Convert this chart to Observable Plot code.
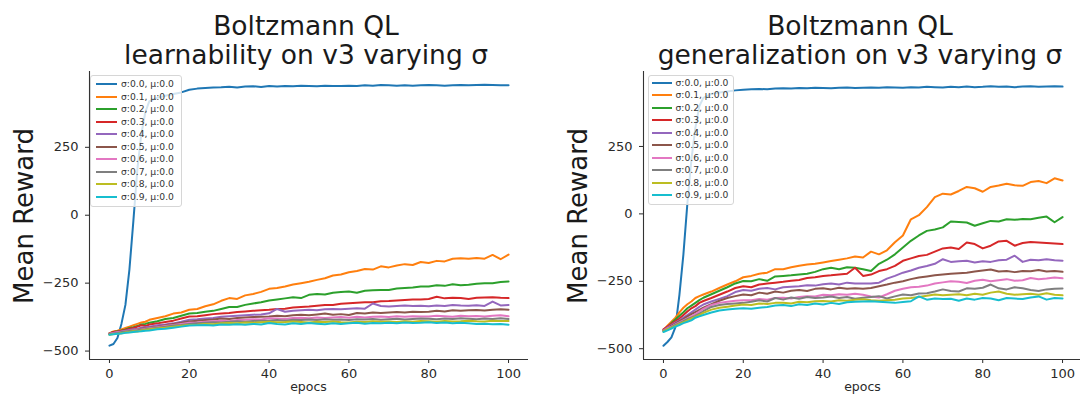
<!DOCTYPE html>
<html>
<head>
<meta charset="utf-8">
<script src="https://cdn.jsdelivr.net/npm/d3@7"></script>
<script src="https://cdn.jsdelivr.net/npm/@observablehq/plot@0.6"></script>
<style>
  html, body { margin: 0; padding: 0; background: #fff; overflow: hidden; }
  #wrap { position: relative; width: 1080px; height: 398px; overflow: hidden; font-family: "DejaVu Sans", sans-serif; }
  .panel { position: absolute; top: 0; width: 540px; height: 398px; }
  .legend { position: absolute; top: 75px; background: rgba(255,255,255,0.8); border: 1px solid #d6d6d6; border-radius: 3px; box-sizing: border-box; }
  .legend .row { position: absolute; left: 0; height: 12px; }
  .legend .sw { position: absolute; height: 2px; top: 5px; }
  .legend .tx { position: absolute; top: 0; font-size: 9.2px; line-height: 12px; color: #333; white-space: nowrap; }
  svg.overlay { position: absolute; left: 0; top: 0; pointer-events: none; }
</style>
</head>
<body>
<div id="wrap"></div>
<script>
// ---------- data ----------
const epochs = [0,1,2,3,4,5,6,7,8,9,10,
  12,14,16,18,20,22,24,26,28,30,
  32,34,36,38,40,42,44,46,48,50,
  52,54,56,58,60,62,64,66,68,70,
  72,74,76,78,80,82,84,86,88,90,
  92,94,96,98,100];

const sigmas = ["0.0","0.1","0.2","0.3","0.4","0.5","0.6","0.7","0.8","0.9"];
const labels = sigmas.map(s => `σ:${s}, μ:0.0`);
const colors = ["#1f77b4","#ff7f0e","#2ca02c","#d62728","#9467bd","#8c564b","#e377c2","#7f7f7f","#bcbd22","#17becf"];

const xTicks = [0,20,40,60,80,100];
const yTicks = [-500,-250,0,250];
const titles = ["learnability on v3 varying σ", "generalization on v3 varying σ"];

// learnability panel
const learnS0 = [-480,-474,-452,-400,-330,-200,-20,170,300,380,420,
  432,440,446,452,462,466,468,470,471,473,
  470,474,475,472,476,474,476,475,477,476,
  475,477,476,476,477,476,478,477,479,478,
  477,478,477,478,479,478,477,478,479,478,
  479,480,479,478,478];
const learnS1 = [-435,-428,-425,-420,-415,-410,-405,-400,-395,-392,-385,
  -378,-372,-362,-358,-348,-345,-335,-328,-315,-305,
  -308,-295,-290,-282,-271,-268,-262,-255,-250,-245,
  -238,-232,-222,-218,-210,-205,-198,-200,-188,-192,
  -185,-180,-183,-172,-176,-168,-170,-160,-158,-160,
  -157,-160,-146,-162,-145];
const learnS2 = [-435,-430,-427,-424,-420,-415,-412,-408,-402,-400,-396,
  -390,-382,-378,-370,-362,-360,-355,-352,-345,-338,
  -338,-330,-325,-320,-314,-310,-306,-302,-305,-293,
  -290,-292,-285,-283,-281,-285,-278,-276,-275,-275,
  -270,-268,-266,-262,-262,-258,-260,-254,-258,-256,
  -252,-250,-250,-246,-244];
const learnS3 = [-435,-430,-428,-425,-422,-418,-415,-410,-405,-408,-402,
  -398,-393,-388,-380,-373,-372,-368,-364,-362,-360,
  -356,-354,-352,-350,-348,-345,-344,-340,-338,-336,
  -333,-330,-330,-326,-324,-322,-320,-320,-317,-316,
  -314,-312,-310,-310,-308,-300,-306,-304,-305,-308,
  -304,-303,-302,-304,-305];
const learnS4 = [-437,-433,-430,-428,-425,-422,-420,-418,-414,-412,-410,
  -405,-402,-398,-392,-385,-383,-380,-378,-374,-372,
  -370,-368,-366,-365,-361,-345,-355,-352,-350,-348,
  -350,-346,-345,-346,-344,-342,-344,-325,-334,-336,
  -334,-332,-334,-333,-335,-332,-334,-330,-332,-333,
  -331,-334,-318,-332,-330];
const learnS5 = [-437,-434,-432,-430,-428,-425,-423,-420,-418,-416,-414,
  -410,-405,-400,-396,-391,-388,-386,-384,-380,-382,
  -378,-376,-375,-374,-373,-370,-372,-368,-366,-368,
  -365,-362,-366,-364,-367,-360,-362,-358,-360,-358,
  -356,-358,-355,-356,-355,-352,-354,-350,-352,-350,
  -349,-351,-348,-346,-348];
const learnS6 = [-436,-433,-431,-429,-427,-425,-423,-421,-420,-418,-416,
  -412,-408,-404,-400,-396,-395,-392,-390,-388,-390,
  -386,-385,-383,-384,-379,-380,-382,-378,-377,-379,
  -376,-378,-376,-375,-377,-374,-376,-374,-373,-375,
  -372,-374,-372,-373,-373,-370,-372,-374,-370,-372,
  -371,-373,-370,-368,-372];
const learnS7 = [-438,-435,-433,-430,-428,-426,-424,-423,-421,-420,-418,
  -414,-410,-406,-404,-400,-398,-396,-394,-395,-392,
  -390,-392,-389,-388,-388,-386,-388,-385,-386,-384,
  -386,-383,-385,-384,-386,-383,-384,-382,-385,-383,
  -381,-384,-382,-380,-381,-383,-380,-382,-379,-381,
  -383,-380,-382,-379,-382];
const learnS8 = [-440,-437,-436,-434,-432,-430,-427,-428,-424,-422,-420,
  -417,-414,-410,-407,-404,-403,-400,-401,-398,-397,
  -398,-395,-396,-394,-392,-394,-393,-391,-393,-395,
  -392,-393,-391,-394,-395,-392,-393,-390,-392,-391,
  -393,-390,-392,-389,-390,-392,-389,-391,-390,-388,
  -390,-391,-388,-389,-389];
const learnS9 = [-440,-438,-436,-435,-433,-432,-430,-428,-427,-425,-424,
  -420,-418,-414,-410,-406,-405,-404,-406,-402,-403,
  -401,-403,-400,-402,-397,-400,-402,-398,-400,-397,
  -399,-401,-398,-400,-398,-396,-399,-397,-398,-396,
  -398,-395,-397,-396,-394,-397,-395,-398,-396,-398,
  -400,-399,-401,-400,-403];

// generalization panel
const genS0 = [-489,-475,-458,-420,-300,-150,40,200,320,400,430,
  445,450,454,458,460,462,463,462,465,466,
  465,467,466,468,467,466,468,469,467,468,
  469,468,470,469,468,470,469,471,470,469,
  471,470,472,470,471,473,471,472,470,472,
  473,471,472,473,472];
const genS1 = [-430,-415,-400,-385,-365,-348,-335,-325,-312,-305,-299,
  -288,-275,-262,-250,-235,-230,-222,-218,-205,-205,
  -198,-192,-188,-185,-180,-175,-170,-165,-158,-162,
  -140,-150,-135,-105,-80,-20,-5,25,62,75,
  72,85,100,95,82,100,105,112,106,104,
  118,122,114,132,124];
const genS2 = [-432,-420,-405,-392,-378,-365,-350,-340,-330,-320,-311,
  -298,-285,-272,-258,-249,-250,-242,-248,-232,-230,
  -228,-225,-222,-215,-205,-200,-205,-198,-200,-205,
  -212,-185,-170,-150,-125,-100,-80,-63,-58,-50,
  -28,-30,-32,-44,-35,-26,-28,-20,-22,-19,
  -20,-14,-10,-31,-12];
const genS3 = [-428,-418,-408,-398,-388,-375,-362,-350,-342,-330,-323,
  -312,-300,-288,-275,-268,-272,-262,-258,-255,-252,
  -248,-245,-238,-235,-230,-228,-225,-222,-200,-230,
  -225,-212,-205,-193,-174,-165,-156,-152,-140,-128,
  -125,-130,-106,-112,-128,-118,-102,-100,-118,-108,
  -104,-106,-108,-110,-112];
const genS4 = [-432,-422,-412,-403,-395,-385,-375,-365,-355,-345,-336,
  -325,-315,-305,-290,-282,-285,-278,-275,-280,-272,
  -270,-268,-265,-266,-261,-258,-262,-255,-258,-258,
  -258,-255,-240,-230,-218,-210,-200,-193,-185,-168,
  -178,-176,-174,-180,-176,-178,-172,-170,-155,-178,
  -170,-172,-168,-172,-174];
const genS5 = [-433,-425,-415,-407,-398,-390,-380,-372,-364,-356,-348,
  -335,-322,-312,-305,-299,-302,-292,-296,-288,-292,
  -285,-282,-286,-278,-276,-280,-274,-278,-276,-278,
  -275,-268,-262,-255,-250,-242,-236,-232,-228,-225,
  -222,-220,-218,-214,-210,-206,-214,-212,-216,-212,
  -213,-208,-214,-212,-215];
const genS6 = [-433,-425,-418,-410,-402,-395,-388,-380,-372,-362,-352,
  -338,-330,-326,-322,-320,-320,-316,-318,-312,-311,
  -314,-308,-305,-306,-300,-302,-298,-300,-296,-300,
  -306,-310,-298,-285,-278,-272,-270,-266,-258,-254,
  -250,-252,-256,-248,-244,-250,-246,-242,-248,-246,
  -238,-242,-240,-236,-239];
const genS7 = [-434,-428,-420,-412,-405,-398,-390,-385,-378,-370,-361,
  -345,-338,-334,-332,-330,-326,-320,-325,-312,-318,
  -310,-315,-308,-312,-310,-306,-312,-308,-315,-311,
  -308,-305,-314,-306,-299,-302,-295,-294,-288,-280,
  -286,-288,-276,-278,-274,-262,-276,-280,-272,-276,
  -282,-286,-280,-278,-277];
const genS8 = [-436,-428,-422,-415,-408,-402,-395,-388,-382,-375,-367,
  -355,-348,-344,-340,-336,-338,-332,-334,-330,-330,
  -332,-326,-328,-324,-323,-325,-320,-322,-318,-317,
  -320,-322,-320,-318,-314,-312,-308,-304,-299,-302,
  -300,-298,-302,-296,-300,-292,-288,-296,-300,-298,
  -296,-300,-294,-300,-302];
const genS9 = [-438,-432,-425,-418,-412,-405,-400,-395,-385,-380,-375,
  -366,-358,-355,-352,-350,-352,-348,-345,-340,-338,
  -342,-335,-338,-332,-336,-330,-334,-328,-326,-325,
  -324,-326,-328,-330,-327,-324,-306,-318,-314,-316,
  -315,-322,-314,-318,-312,-314,-320,-312,-314,-316,
  -310,-306,-318,-312,-314];

const learnSeries = [learnS0,learnS1,learnS2,learnS3,learnS4,learnS5,learnS6,learnS7,learnS8,learnS9];
const genSeries = [genS0,genS1,genS2,genS3,genS4,genS5,genS6,genS7,genS8,genS9];

// ---------- build ----------
function toTable(series) {
  return series.flatMap((vals, i) => vals.map((v, j) => ({epoch: epochs[j], reward: v, label: labels[i]})));
}

function chart(series, ydom) {
  const data = toTable(series);
  return Plot.plot({
    width: 540, height: 398,
    marginLeft: 89, marginRight: 12, marginTop: 71, marginBottom: 39,
    style: {fontFamily: "DejaVu Sans", fontSize: "13px", color: "#2a2a2a", background: "transparent", overflow: "visible"},
    x: {domain: [-5, 105], ticks: xTicks, tickSize: 4, tickPadding: 5, label: null},
    y: {domain: ydom, ticks: yTicks, tickSize: 4, tickPadding: 7, label: null},
    color: {domain: labels, range: colors},
    marks: [
      Plot.line(data, {x: "epoch", y: "reward", z: "label", stroke: "label", strokeWidth: 2, strokeLinejoin: "round"}),
      Plot.ruleX([-5], {stroke: "#333", strokeWidth: 1.1}),
      Plot.ruleY([ydom[0]], {stroke: "#333", strokeWidth: 1.1})
    ]
  });
}

function legend(opts) {
  const box = document.createElement("div");
  box.className = "legend";
  box.style.left = opts.left + "px";
  box.style.width = opts.width + "px";
  box.style.height = opts.height + "px";
  labels.forEach((lab, i) => {
    const row = document.createElement("div");
    row.className = "row";
    row.style.top = (opts.firstRow + i * opts.step - 6) + "px";
    row.style.width = "100%";
    const sw = document.createElement("div");
    sw.className = "sw";
    sw.style.left = opts.swLeft + "px";
    sw.style.width = opts.swWidth + "px";
    sw.style.background = colors[i];
    const tx = document.createElement("div");
    tx.className = "tx";
    tx.style.left = opts.txLeft + "px";
    tx.textContent = lab;
    row.appendChild(sw); row.appendChild(tx);
    box.appendChild(row);
  });
  return box;
}

const wrap = document.getElementById("wrap");
const panels = [
  {left: 0, series: learnSeries, ydom: [-531, 529], title: titles[0],
   leg: {left: 90, width: 92, height: 132, firstRow: 8.3, step: 12.52, swLeft: 5, swWidth: 21, txLeft: 30}},
  {left: 554, series: genSeries, ydom: [-540, 528], title: titles[1],
   leg: {left: 94, width: 86, height: 130, firstRow: 7, step: 12.48, swLeft: 3, swWidth: 20, txLeft: 26.5}}
];

panels.forEach(p => {
  const div = document.createElement("div");
  div.className = "panel";
  div.style.left = p.left + "px";
  div.appendChild(chart(p.series, p.ydom));
  div.appendChild(legend(p.leg));

  const svg = d3.create("svg").attr("class", "overlay").attr("width", 540).attr("height", 398)
    .style("font-family", "DejaVu Sans");
  const cx = 306;
  svg.append("text").attr("x", cx).attr("y", 35).attr("text-anchor", "middle")
    .attr("font-size", 26.5).attr("fill", "#1a1a1a").text("Boltzmann QL");
  svg.append("text").attr("x", cx).attr("y", 63.5).attr("text-anchor", "middle")
    .attr("font-size", 26.5).attr("fill", "#1a1a1a").text(p.title);
  svg.append("text").attr("transform", "translate(33,216) rotate(-90)").attr("text-anchor", "middle")
    .attr("font-size", 26).attr("fill", "#1a1a1a").text("Mean Reward");
  svg.append("text").attr("x", 308.5).attr("y", 391).attr("text-anchor", "middle")
    .attr("font-size", 12.5).attr("fill", "#2a2a2a").text("epocs");
  div.appendChild(svg.node());
  wrap.appendChild(div);
});
</script>
</body>
</html>
